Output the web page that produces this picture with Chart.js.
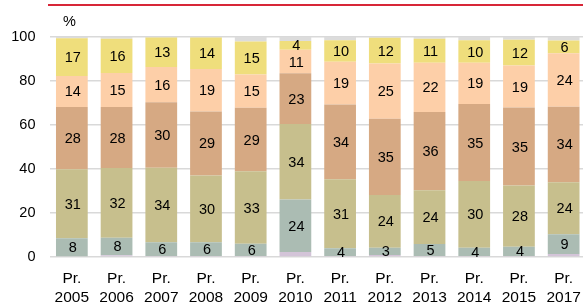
<!DOCTYPE html>
<html>
<head>
<meta charset="utf-8">
<script src="https://cdn.jsdelivr.net/npm/chart.js@4.4.0/dist/chart.umd.min.js"></script>
<style>
  html, body { margin: 0; padding: 0; background: #fff; overflow: hidden; }
  #wrap { position: relative; width: 586px; height: 303px; }
  #redline { position: absolute; left: 48px; top: 4px; width: 540px; height: 2px; background: #d72638; }
  #unit { position: absolute; left: 63px; top: 13px; font: 14.5px "Liberation Sans", Arial, sans-serif; color: #000; }
</style>
</head>
<body>
<div id="wrap">
  <canvas id="shareChart"></canvas>
  <div id="redline"></div>
  <div id="unit">%</div>
</div>
<script>
const years = ['2005', '2006', '2007', '2008', '2009', '2010', '2011', '2012', '2013', '2014', '2015', '2017'];
const yTicks = [0, 20, 40, 60, 80, 100];

// segments, bottom to top
const purple    = [0.3, 0.8, 0.5, 0.5, 0.4, 2.3, 0.4, 0.9, 0.5, 0.5, 0.5, 1.4];
const grayGreen = [8.2, 8.0, 6.2, 6.2, 5.6, 23.8, 3.6, 3.3, 5.4, 3.7, 4.2, 8.9];
const olive     = [31.4, 31.6, 33.9, 30.4, 33.0, 34.4, 31.3, 24.0, 24.4, 30.3, 27.8, 23.7];
const brown     = [28.3, 27.8, 29.7, 29.0, 28.8, 23.0, 34.0, 34.6, 35.6, 35.0, 35.4, 34.3];
const peach     = [14.1, 15.4, 16.1, 19.3, 15.2, 10.7, 19.4, 25.2, 22.4, 18.8, 19.1, 24.3];
const yellow    = [17.1, 15.6, 13.4, 14.4, 15.0, 4.0, 9.8, 11.7, 10.9, 10.2, 11.8, 5.8];
const gray      = [0.6, 0.8, 0.2, 0.2, 2.0, 1.8, 1.5, 0.3, 0.8, 1.5, 1.2, 1.6];

const FONT = '"Liberation Sans", Arial, sans-serif';

const makeSet = (data, color, labelled) => ({
  data,
  backgroundColor: color,
  borderWidth: 0,
  barPercentage: 0.71,
  categoryPercentage: 1,
  labelled,
});

// draws the rounded value in the middle of each labelled segment
const segmentLabels = {
  id: 'segmentLabels',
  afterDatasetsDraw(chart) {
    const ctx = chart.ctx;
    ctx.save();
    ctx.font = '14.5px ' + FONT;
    ctx.fillStyle = '#000';
    ctx.textAlign = 'center';
    ctx.textBaseline = 'middle';
    chart.data.datasets.forEach((ds, i) => {
      if (!ds.labelled) return;
      chart.getDatasetMeta(i).data.forEach((bar, j) => {
        const y = (bar.y + bar.base) / 2;
        ctx.fillText(String(Math.round(ds.data[j])), bar.x + 1, y + 1);
      });
    });
    ctx.restore();
  },
};

new Chart('shareChart', {
  type: 'bar',
  data: {
    labels: years.map((y) => ['Pr.', y]),
    datasets: [
      makeSet(purple, '#d3c4d8', false),
      makeSet(grayGreen, '#abbcb3', true),
      makeSet(olive, '#c7bf8d', true),
      makeSet(brown, '#d6a983', true),
      makeSet(peach, '#fdcfa8', true),
      makeSet(yellow, '#efde7c', true),
      makeSet(gray, '#dcdcdc', false),
    ],
  },
  options: {
    responsive: true,
    maintainAspectRatio: false,
    animation: false,
    layout: { padding: { top: 37, right: 0, bottom: 0, left: 0 } },
    plugins: { legend: { display: false }, tooltip: { enabled: false } },
    scales: {
      x: {
        stacked: true,
        grid: { display: false },
        border: { display: false },
        afterFit: (scale) => { scale.height = 46; },
        ticks: {
          color: '#000',
          padding: 5,
          maxRotation: 0,
          autoSkip: false,
          font: { family: FONT, size: 15.5, lineHeight: 1.18 },
        },
      },
      y: {
        stacked: true,
        min: 0,
        max: 100,
        afterBuildTicks: (scale) => { scale.ticks = yTicks.map((v) => ({ value: v })); },
        afterFit: (scale) => { scale.width = 49.5; },
        grid: { color: '#d9d9d9', lineWidth: 1.5, drawTicks: false },
        border: { display: false },
        ticks: {
          color: '#000',
          padding: 14,
          font: { family: FONT, size: 14.5 },
        },
      },
    },
  },
  plugins: [segmentLabels],
});
</script>
</body>
</html>
